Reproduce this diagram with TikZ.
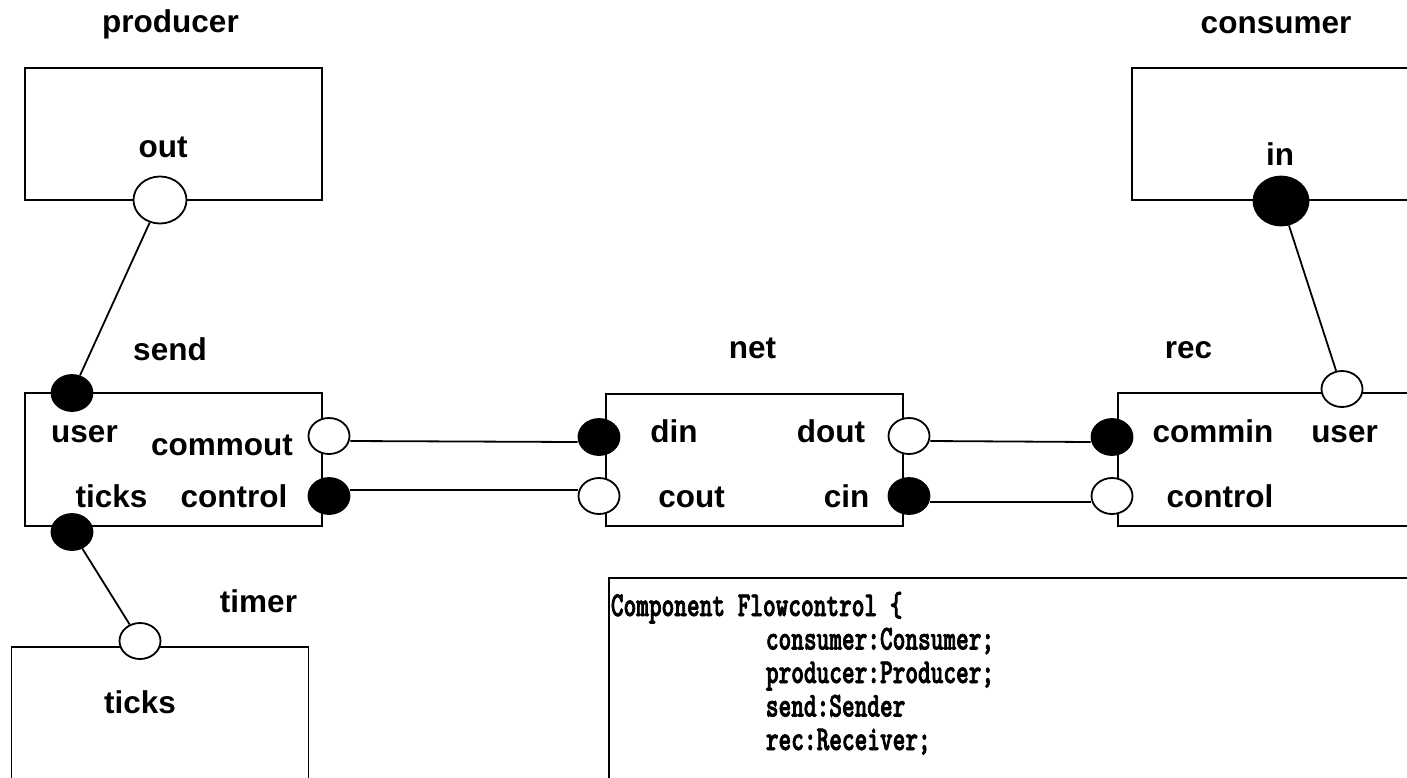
\documentclass[tikz,border=0pt]{standalone}
\usepackage{fontspec}
\setmainfont{Liberation Sans}
\newfontfamily\codefont{lmmonolt10-bold.otf}[FakeStretch=0.69, FakeBold=2]
\usepackage{tikz}
\usetikzlibrary{shapes.geometric, positioning}

\begin{document}
\begin{tikzpicture}[x=1pt, y=-1pt, line width=1.8pt,
    comp/.style={draw, rectangle, minimum width=297pt, minimum height=132pt, inner sep=0pt},
    oport/.style={draw, ellipse, fill=white, minimum width=41pt, minimum height=36pt, inner sep=0pt},
    fport/.style={oport, fill=black},
    big/.style={minimum width=53pt, minimum height=47pt},
    lbl/.style={font=\fontsize{31.5}{38}\selectfont\bfseries, inner sep=0pt, anchor=base},
    code/.style={font=\codefont\fontsize{35}{33.5}\selectfont, inner sep=0pt, anchor=base west}]
    \clip (0,0) rectangle (1407,777);

    % components
    \node[comp] (producer) at (173.5,134) {};
    \node[comp] (consumer) at (1280.5,134) {};
    \node[comp, minimum height=133pt] (send) at (173.5,459.5) {};
    \node[comp] (net) at (754.5,460) {};
    \node[comp, minimum height=133pt] (rec) at (1266.5,459.5) {};
    \node[comp] (timer) at (160,713) {};
    \node[draw, rectangle, minimum width=900pt, minimum height=300pt, anchor=north west] (codebox) at (608,577) {};

    % titles
    \node[lbl] (tproducer) at (170.5,32) {producer};
    \node[lbl] (tconsumer) at (1276,33) {consumer};
    \node[lbl] (tsend) at (170,360) {send};
    \node[lbl] (tnet) at (752.5,358) {net};
    \node[lbl] (trec) at (1188.5,358) {rec};
    \node[lbl] (ttimer) at (258.5,612) {timer};

    % port labels
    \node[lbl] (lprodout) at (163,157) {out};
    \node[lbl] (lconsin) at (1280,165) {in};
    \node[lbl] (lsenduser) at (84.5,442) {user};
    \node[lbl] (lsendcommout) at (222,455) {commout};
    \node[lbl] (lsendticks) at (111.5,507) {ticks};
    \node[lbl] (lsendcontrol) at (234,507) {control};
    \node[lbl] (lnetdin) at (674,442) {din};
    \node[lbl] (lnetdout) at (831,442) {dout};
    \node[lbl] (lnetcout) at (691.5,507) {cout};
    \node[lbl] (lnetcin) at (846.5,507) {cin};
    \node[lbl] (lreccommin) at (1213,442) {commin};
    \node[lbl] (lrecuser) at (1344.5,442) {user};
    \node[lbl] (lreccontrol) at (1220,507) {control};
    \node[lbl] (ltimerticks) at (140,713) {ticks};

    % ports
    \node[oport, big] (prodout) at (160,200) {};
    \node[fport, big, minimum width=55pt, minimum height=49pt] (consin) at (1281,201) {};
    \node[fport] (senduser) at (72,393) {};
    \node[oport] (sendcommout) at (329,436) {};
    \node[fport] (sendcontrol) at (329,496) {};
    \node[fport] (sendticks) at (72,532) {};
    \node[oport] (timerticks) at (140,641) {};
    \node[fport] (netdin) at (599,437) {};
    \node[oport] (netcout) at (599,496) {};
    \node[oport] (netdout) at (909,436) {};
    \node[fport] (netcin) at (909,496) {};
    \node[fport] (reccommin) at (1112,437) {};
    \node[oport] (reccontrol) at (1112,496) {};
    \node[oport] (recuser) at (1342,389) {};

    % bindings
    \draw (prodout) -- (senduser);
    \draw (consin) -- (recuser);
    \draw (sendticks) -- (timerticks);
    \draw ([yshift=-5pt]sendcommout.east) -- ([yshift=-5pt]netdin.west);
    \draw ([yshift=6pt]sendcontrol.east) -- ([yshift=6pt]netcout.west);
    \draw ([yshift=-5pt]netdout.east) -- ([yshift=-5pt]reccommin.west);
    \draw ([yshift=-6pt]netcin.east) -- ([yshift=-6pt]reccontrol.west);

    % declaration
    \node[code] (code0) at (610,616) {Component Flowcontrol \{};
    \foreach \ln [count=\i] in {consumer:Consumer;, producer:Producer;, send:Sender, rec:Receiver;}
        \node[code] (code\i) at (765,616+33.5*\i) {\ln};
\end{tikzpicture}
\end{document}
